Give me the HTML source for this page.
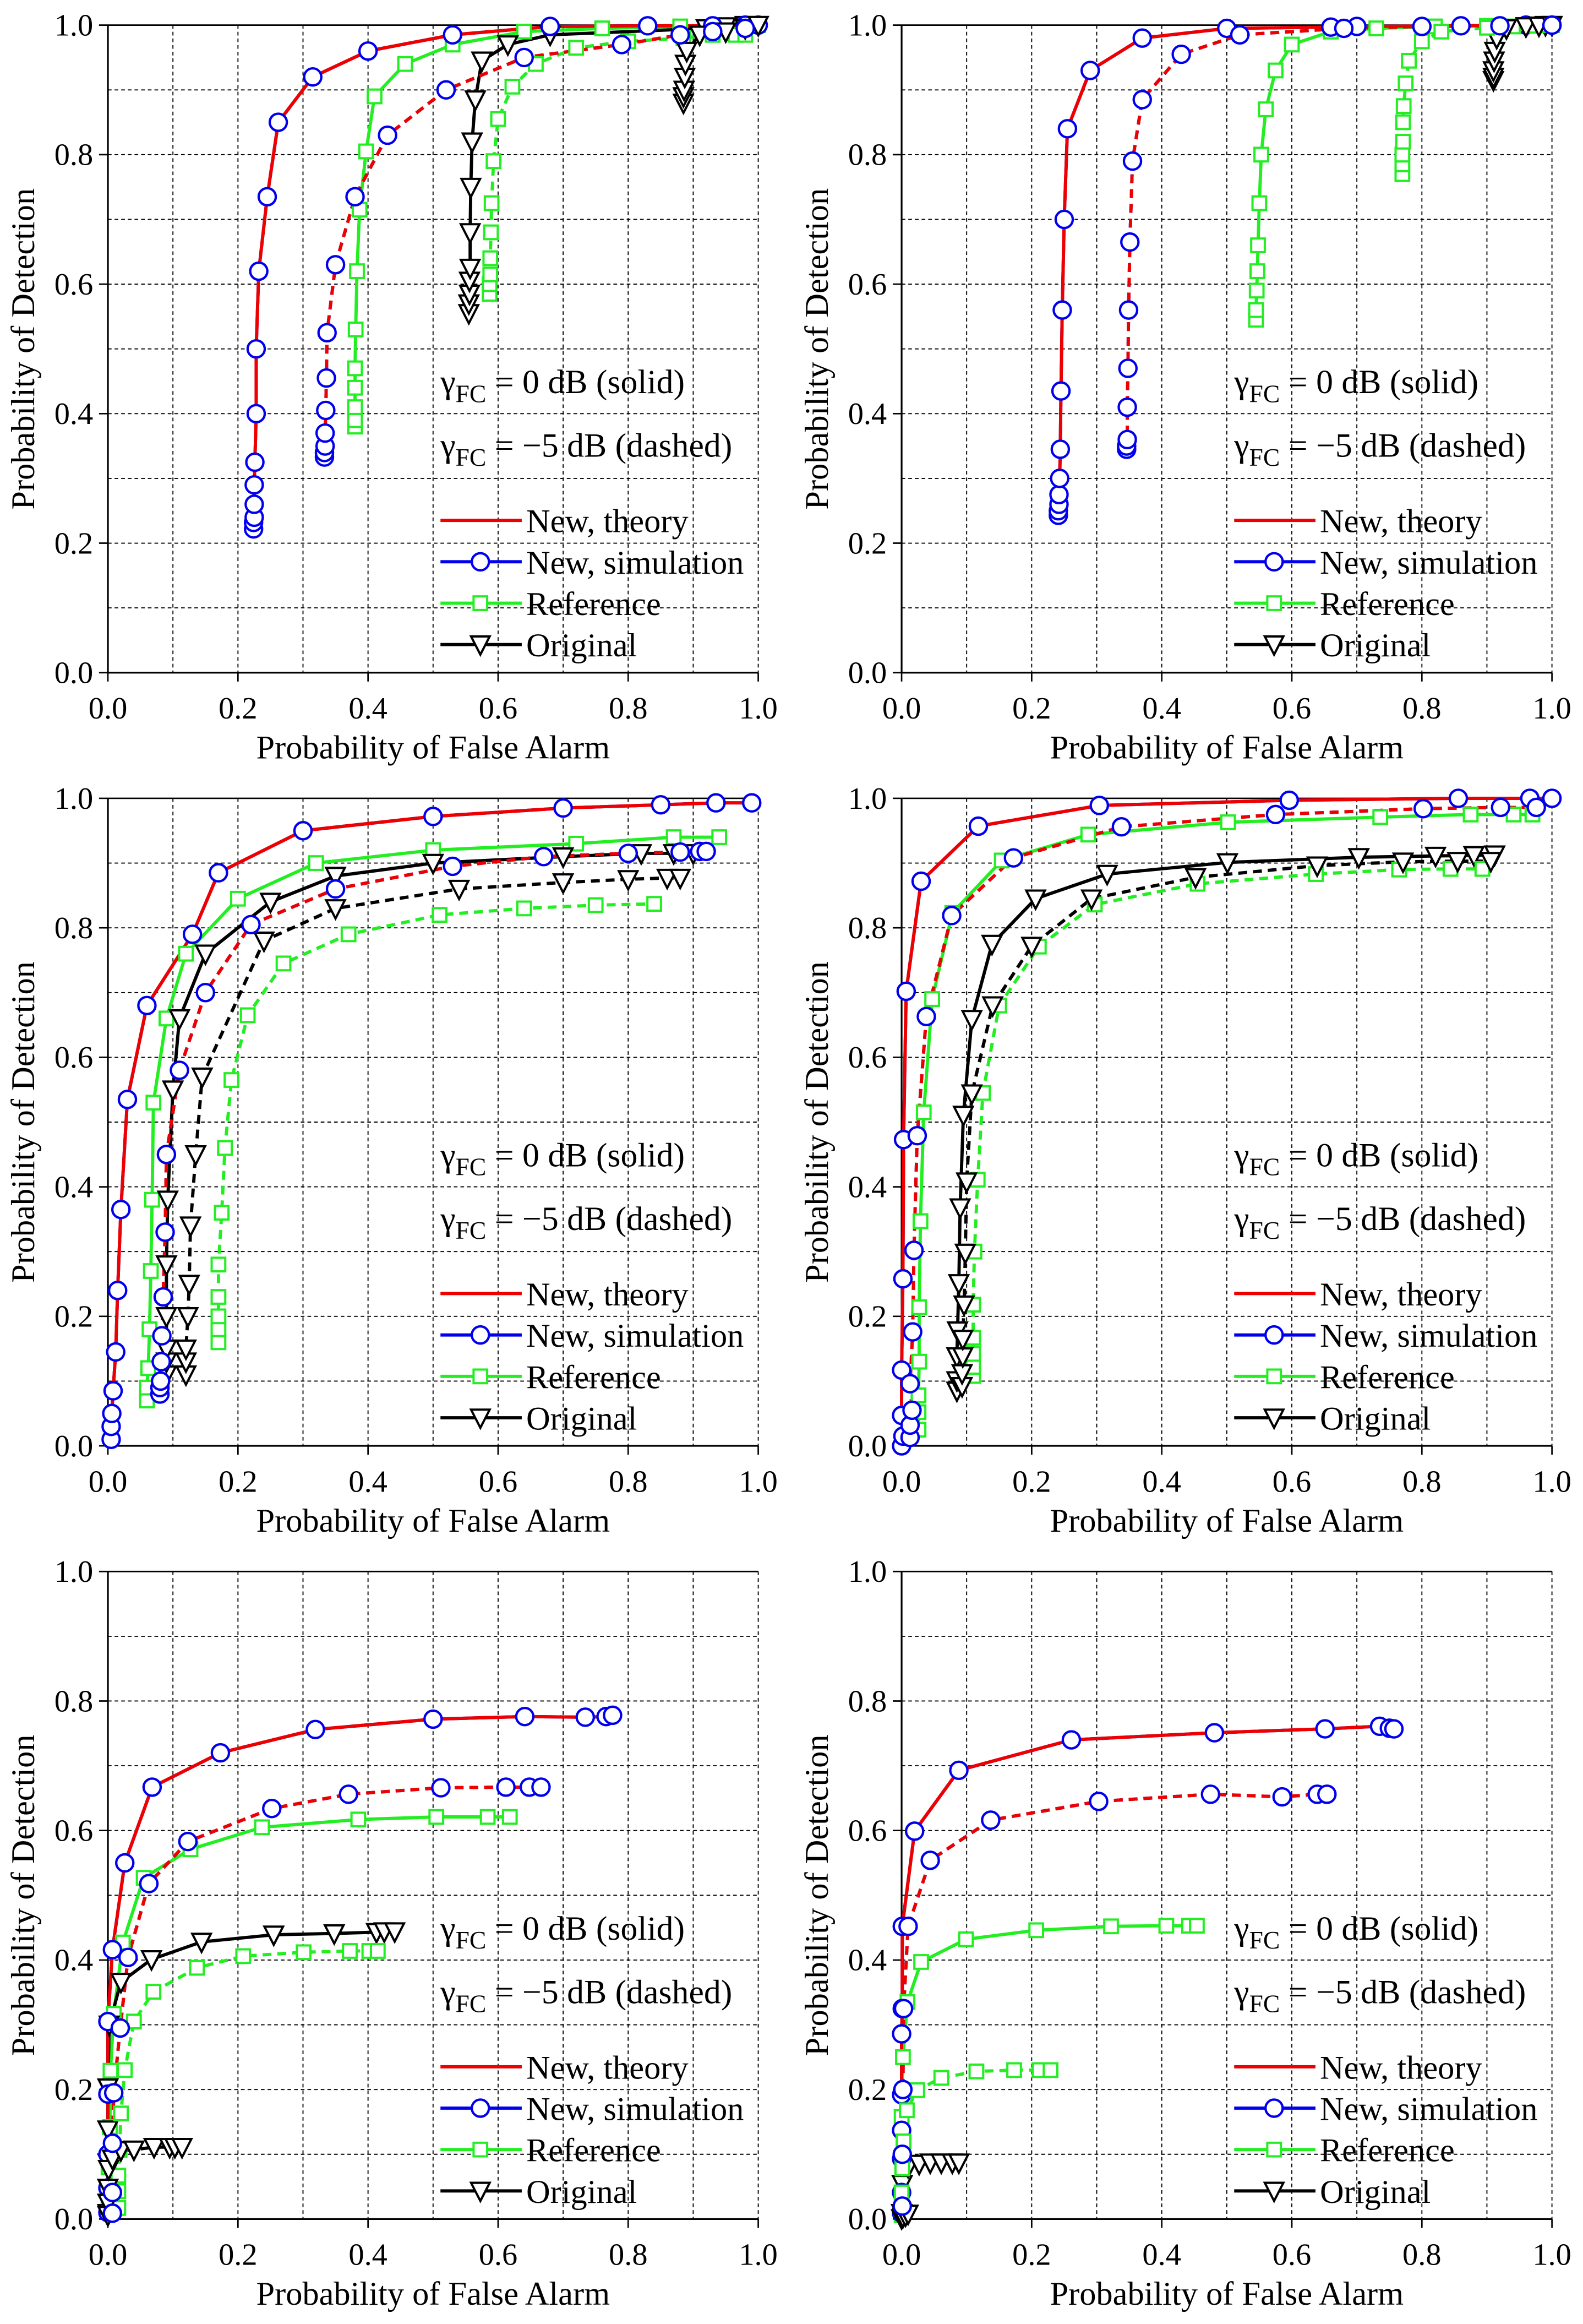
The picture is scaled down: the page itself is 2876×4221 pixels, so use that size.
<!DOCTYPE html>
<html><head><meta charset="utf-8">
<style>
html,body{margin:0;padding:0;background:#fff;}
svg{display:block;font-family:"Liberation Serif",serif;}
</style></head>
<body>
<svg id="fig" width="2876" height="4221" viewBox="0 0 1071 1572" preserveAspectRatio="none" xmlns="http://www.w3.org/2000/svg"></svg>
<script>
// ---------- Data (Pfa x, Pd y) ----------
// Panel 1
const p1_sim0_x=[.224,.224,.225,.225,.225,.226,.228,.228,.232,.245,.262,.315,.4,.53,.68,.83,.93,.98,1];
const p1_sim0_y=[.222,.232,.24,.26,.29,.325,.40,.50,.62,.735,.85,.92,.96,.985,.998,.999,.999,1,1];
const p1_sim5_x=[.333,.333,.334,.334,.335,.336,.337,.35,.38,.43,.52,.64,.79,.88,.93,.98];
const p1_sim5_y=[.333,.34,.35,.37,.405,.455,.525,.63,.735,.83,.90,.95,.97,.985,.99,.995];
const p1_ref0_x=[.38,.38,.38,.38,.38,.381,.383,.387,.397,.41,.457,.53,.64,.76,.88,1];
const p1_ref0_y=[.38,.39,.41,.44,.47,.53,.62,.715,.805,.89,.94,.97,.99,.995,.998,1];
const p1_ref5_x=[.587,.587,.588,.588,.589,.59,.593,.6,.622,.658,.72,.8,.885,.93,.965,.98];
const p1_ref5_y=[.585,.60,.615,.64,.68,.725,.79,.855,.905,.94,.965,.975,.98,.985,.985,.985];
const p1_org0_x=[.555,.555,.556,.556,.557,.557,.558,.56,.565,.575,.615,.68,.92,.95,.98,1];
const p1_org0_y=[.555,.57,.585,.605,.625,.68,.75,.82,.885,.945,.97,.985,.995,.998,1,1];
const p1_org5_x=[.885,.885,.886,.887,.888,.89,.91,.95,.98,1];
const p1_org5_y=[.88,.89,.90,.92,.94,.96,.985,.99,.995,1];
// Panel 2
const p2_sim0_x=[.241,.241,.242,.242,.243,.244,.245,.247,.25,.255,.29,.37,.5,.66,.7,.86,.96,1];
const p2_sim0_y=[.243,.25,.26,.275,.30,.345,.435,.56,.70,.84,.93,.98,.995,.997,.998,.999,1,1];
const p2_sim5_x=[.346,.346,.347,.347,.348,.349,.351,.355,.37,.43,.52,.68,.8,.92,1];
const p2_sim5_y=[.345,.35,.36,.41,.47,.56,.665,.79,.885,.955,.985,.995,.998,.999,1];
const p2_ref0_x=[.545,.545,.546,.547,.548,.55,.553,.56,.575,.6,.66,.73,.82,.9,.97,1];
const p2_ref0_y=[.545,.56,.59,.62,.66,.725,.80,.87,.93,.97,.99,.995,.998,.999,1,1];
const p2_ref5_x=[.77,.77,.77,.771,.771,.772,.775,.78,.8,.83,.9,.94,.97,.99,1];
const p2_ref5_y=[.77,.785,.8,.82,.85,.875,.91,.945,.975,.99,.996,.998,.999,1,1];
const p2_org0_x=[.91,.91,.91,.911,.912,.915,.93,.96,.99,1];
const p2_org0_y=[.915,.92,.93,.945,.96,.98,.995,.998,1,1];
const p2_org5_x=[.93,.96,.98,1];
const p2_org5_y=[.995,.998,.999,1];
// Panel 3
const p3_sim0_x=[.005,.005,.006,.008,.012,.015,.02,.03,.06,.13,.17,.3,.5,.7,.85,.935,.99];
const p3_sim0_y=[.01,.03,.05,.085,.145,.24,.365,.535,.68,.79,.885,.95,.972,.985,.99,.993,.993];
const p3_sim5_x=[.08,.08,.081,.082,.083,.085,.088,.09,.11,.15,.22,.35,.53,.67,.8,.88,.91,.92];
const p3_sim5_y=[.08,.09,.1,.13,.17,.23,.33,.45,.58,.70,.805,.86,.895,.91,.915,.917,.918,.918];
const p3_ref0_x=[.06,.06,.062,.064,.066,.068,.07,.09,.12,.2,.32,.5,.72,.87,.94];
const p3_ref0_y=[.07,.09,.12,.18,.27,.38,.53,.66,.76,.845,.9,.92,.93,.94,.94];
const p3_ref5_x=[.17,.17,.17,.17,.17,.175,.18,.19,.215,.27,.37,.51,.64,.75,.84];
const p3_ref5_y=[.16,.18,.2,.23,.28,.36,.46,.565,.665,.745,.79,.82,.83,.835,.837];
const p3_org0_x=[.09,.09,.09,.09,.09,.092,.1,.11,.15,.25,.35,.5,.7,.82,.87,.9];
const p3_org0_y=[.11,.13,.15,.2,.28,.38,.55,.66,.76,.84,.88,.9,.91,.915,.915,.915];
const p3_org5_x=[.12,.12,.12,.123,.125,.127,.135,.145,.24,.35,.54,.7,.8,.86,.88];
const p3_org5_y=[.11,.13,.15,.2,.25,.34,.45,.57,.78,.83,.86,.87,.875,.877,.877];
// Panel 4
const p4_sim0_x=[0,.002,0,0,.002,.003,.007,.03,.118,.304,.596,.856,.966,1];
const p4_sim0_y=[0,.015,.047,.117,.258,.473,.702,.872,.957,.989,.997,1,1,1];
const p4_sim5_x=[.013,.013,.016,.013,.017,.019,.024,.038,.077,.172,.338,.575,.802,.921,.976];
const p4_sim5_y=[.013,.032,.055,.096,.176,.302,.479,.663,.819,.908,.956,.975,.984,.986,.986];
const p4_ref0_x=[.026,.026,.026,.027,.027,.029,.034,.047,.078,.154,.287,.502,.736,.875,.941,.97];
const p4_ref0_y=[.025,.052,.078,.13,.214,.347,.515,.69,.823,.904,.944,.963,.971,.975,.975,.975];
const p4_ref5_x=[.11,.11,.11,.11,.11,.112,.117,.125,.15,.211,.297,.455,.637,.765,.844,.893];
const p4_ref5_y=[.108,.122,.142,.167,.218,.3,.411,.545,.68,.771,.836,.868,.883,.89,.891,.891];
const p4_org0_x=[.085,.085,.085,.086,.088,.09,.095,.108,.139,.206,.316,.501,.703,.821,.88,.912];
const p4_org0_y=[.085,.101,.138,.178,.251,.368,.511,.659,.775,.845,.883,.901,.909,.911,.912,.913];
const p4_org5_x=[.093,.093,.094,.094,.096,.098,.1,.108,.14,.2,.292,.452,.639,.771,.855,.906];
const p4_org5_y=[.092,.112,.138,.165,.218,.298,.408,.544,.68,.772,.845,.878,.896,.902,.903,.903];
// Panel 5
const p5_sim0_x=[0,0,0,0,0,.007,.026,.068,.173,.319,.5,.641,.734,.766,.776];
const p5_sim0_y=[.01,.048,.1,.193,.305,.416,.55,.667,.72,.756,.772,.776,.775,.776,.778];
const p5_sim5_x=[.007,.007,.007,.009,.019,.031,.063,.123,.252,.37,.512,.612,.648,.666];
const p5_sim5_y=[.009,.041,.117,.195,.295,.404,.518,.583,.634,.656,.666,.667,.667,.667];
const p5_ref0_x=[.001,.001,.001,.003,.004,.009,.023,.055,.127,.237,.385,.505,.584,.618];
const p5_ref0_y=[.022,.041,.08,.142,.229,.317,.427,.527,.571,.605,.617,.621,.621,.621];
const p5_ref5_x=[.016,.016,.016,.018,.02,.026,.04,.07,.137,.208,.301,.372,.402,.415];
const p5_ref5_y=[.017,.043,.067,.107,.163,.23,.305,.351,.388,.406,.412,.414,.414,.414];
const p5_org0_x=[0,0,0,0,0,.002,.02,.067,.144,.255,.348,.413,.425,.441];
const p5_org0_y=[.009,.048,.087,.138,.203,.3,.366,.401,.428,.439,.441,.443,.444,.444];
const p5_org5_x=[0,0,0,.001,.007,.02,.04,.071,.095,.103,.114];
const p5_org5_y=[.006,.025,.048,.077,.093,.106,.107,.111,.111,.111,.111];
// Panel 6
const p6_sim0_x=[0,0,0,0,0,0,.001,.001,.02,.088,.261,.481,.651,.735,.75,.757];
const p6_sim0_y=[.009,.041,.093,.137,.192,.286,.325,.452,.599,.693,.74,.751,.757,.761,.758,.757];
const p6_sim5_x=[.001,.001,.002,.003,.01,.044,.137,.303,.475,.585,.639,.654];
const p6_sim5_y=[.02,.1,.2,.325,.452,.554,.616,.645,.656,.652,.656,.656];
const p6_ref0_x=[0,0,.001,.003,0,.002,.009,.03,.099,.207,.322,.407,.442,.454];
const p6_ref0_y=[.006,.041,.078,.12,.158,.25,.335,.397,.432,.446,.452,.453,.453,.453];
const p6_ref5_x=[0,0,.001,.003,.008,.024,.061,.115,.173,.212,.229];
const p6_ref5_y=[.016,.041,.078,.12,.168,.199,.218,.228,.23,.23,.23];
const p6_org0_x=[0,.001,.01,.027,.044,.061,.078,.088];
const p6_org0_y=[.009,.054,.08,.085,.087,.087,.087,.087];
const p6_org5_x=[0,.002,.006,.01];
const p6_org5_y=[.001,.003,.005,.008];

const xTicks=["0.0","0.2","0.4","0.6","0.8","1.0"];
const yTicks=["0.0","0.2","0.4","0.6","0.8","1.0"];
const legendLabels=["New, theory","New, simulation","Reference","Original"];

const panels=[
 {x0:73,y0:17,d:{sim0:[p1_sim0_x,p1_sim0_y],sim5:[p1_sim5_x,p1_sim5_y],ref0:[p1_ref0_x,p1_ref0_y],ref5:[p1_ref5_x,p1_ref5_y],org0:[p1_org0_x,p1_org0_y],org5:[p1_org5_x,p1_org5_y]}},
 {x0:610,y0:17,d:{sim0:[p2_sim0_x,p2_sim0_y],sim5:[p2_sim5_x,p2_sim5_y],ref0:[p2_ref0_x,p2_ref0_y],ref5:[p2_ref5_x,p2_ref5_y],org0:[p2_org0_x,p2_org0_y],org5:[p2_org5_x,p2_org5_y]}},
 {x0:73,y0:540,d:{sim0:[p3_sim0_x,p3_sim0_y],sim5:[p3_sim5_x,p3_sim5_y],ref0:[p3_ref0_x,p3_ref0_y],ref5:[p3_ref5_x,p3_ref5_y],org0:[p3_org0_x,p3_org0_y],org5:[p3_org5_x,p3_org5_y]}},
 {x0:610,y0:540,d:{sim0:[p4_sim0_x,p4_sim0_y],sim5:[p4_sim5_x,p4_sim5_y],ref0:[p4_ref0_x,p4_ref0_y],ref5:[p4_ref5_x,p4_ref5_y],org0:[p4_org0_x,p4_org0_y],org5:[p4_org5_x,p4_org5_y]}},
 {x0:73,y0:1063,d:{sim0:[p5_sim0_x,p5_sim0_y],sim5:[p5_sim5_x,p5_sim5_y],ref0:[p5_ref0_x,p5_ref0_y],ref5:[p5_ref5_x,p5_ref5_y],org0:[p5_org0_x,p5_org0_y],org5:[p5_org5_x,p5_org5_y]}},
 {x0:610,y0:1063,d:{sim0:[p6_sim0_x,p6_sim0_y],sim5:[p6_sim5_x,p6_sim5_y],ref0:[p6_ref0_x,p6_ref0_y],ref5:[p6_ref5_x,p6_ref5_y],org0:[p6_org0_x,p6_org0_y],org5:[p6_org5_x,p6_org5_y]}}
];

const NS="http://www.w3.org/2000/svg";
const svg=document.getElementById('fig');
const W=440,H=438;
function mk(tag,attrs,parent){const e=document.createElementNS(NS,tag);for(const k in attrs)e.setAttribute(k,attrs[k]);(parent||svg).appendChild(e);return e;}

function marker(g,type,cx,cy,color){
  let m;
  if(type==='c'){m=mk('circle',{cx:cx,cy:cy,r:5.8,fill:'#fff',stroke:color,'stroke-width':1.6},g);}
  else if(type==='s'){m=mk('rect',{x:cx-4.6,y:cy-4.6,width:9.2,height:9.2,fill:'#fff',stroke:color,'stroke-width':1.5},g);}
  else {m=mk('path',{d:`M${cx-6.3},${cy-5.5} L${cx+6.3},${cy-5.5} L${cx},${cy+6.8} Z`,fill:'#fff',stroke:color,'stroke-width':1.5},g);}
  return m;
}

panels.forEach((p,pi)=>{
  const sx=v=>p.x0+v*W, sy=v=>p.y0+H-v*H;
  const g=mk('g',{});
  
  
  for(let i=1;i<=10;i++){
    const gx=mk('line',{x1:sx(i/10),y1:p.y0,x2:sx(i/10),y2:p.y0+H,stroke:'#000','stroke-width':0.7,'stroke-dasharray':'2.5,2'},g);
    
    
    const gy=mk('line',{x1:p.x0,y1:sy(i/10),x2:p.x0+W,y2:sy(i/10),stroke:'#000','stroke-width':0.7,'stroke-dasharray':'2.5,2'},g);
    
    
  }
  const top=mk('line',{x1:p.x0,y1:p.y0,x2:p.x0+W,y2:p.y0,stroke:'#000','stroke-width':1},g);
  
  
  const xa=mk('line',{x1:p.x0,y1:p.y0+H,x2:p.x0+W,y2:p.y0+H,stroke:'#000','stroke-width':1.2},g);
  
  
  const ya=mk('line',{x1:p.x0,y1:p.y0,x2:p.x0,y2:p.y0+H,stroke:'#000','stroke-width':1.2},g);
  
  
  xTicks.forEach((t,i)=>{
    const v=i/(xTicks.length-1);
    const tk=mk('line',{x1:sx(v),y1:p.y0+H,x2:sx(v),y2:p.y0+H+6,stroke:'#000','stroke-width':1},g);
    
    
    const tx=mk('text',{x:sx(v),y:p.y0+H+31,'text-anchor':'middle','font-size':21},g);
    tx.textContent=t;
    
    
  });
  yTicks.forEach((t,i)=>{
    const v=i/(yTicks.length-1);
    const tk=mk('line',{x1:p.x0-6,y1:sy(v),x2:p.x0,y2:sy(v),stroke:'#000','stroke-width':1},g);
    
    
    const ty=mk('text',{x:p.x0-10,y:sy(v)+7,'text-anchor':'end','font-size':21},g);
    ty.textContent=t;
    
    
  });
  const xt=mk('text',{x:p.x0+220,y:p.y0+H+58,'text-anchor':'middle','font-size':22.5},g);
  xt.textContent='Probability of False Alarm';
  
  
  const yt=mk('text',{x:0,y:0,'text-anchor':'middle','font-size':22.5,transform:`translate(${p.x0-50},${p.y0+219}) rotate(-90)`},g);
  yt.textContent='Probability of Detection';
  
  

  const defs=[
    ['ref','#22ee22','s'],['org','#000','t'],['sim','#0000ee','c'],['theory','#ee0000',null]
  ];
  const lines=[];
  ['0','5'].forEach(lv=>{
    defs.forEach(([k,col,mt])=>{
      const src=k==='theory'?p.d['sim'+lv]:p.d[k+lv];
      const xs=src[0],ys=src[1];
      const pts=xs.map((x,i)=>sx(x).toFixed(2)+','+sy(ys[i]).toFixed(2)).join(' ');
      const attrs={points:pts,fill:'none',stroke:col,'stroke-width':2.2,'stroke-linejoin':'round'};
      if(lv==='5')attrs['stroke-dasharray']='6,4';
      lines.push({k,lv,attrs,xs,ys,col,mt});
    });
  });
  const order=['ref','org','sim','theory'];
  order.forEach(k=>lines.filter(l=>l.k===k).forEach(l=>{
    const pl=mk('polyline',l.attrs,g);
    
    
  }));
  lines.filter(l=>l.mt).forEach(l=>{
    l.xs.forEach((x,i)=>{
      const m=marker(g,l.mt,sx(x),sy(l.ys[i]),l.col);
      
      
    });
  });

  const a1=mk('text',{x:p.x0+225,y:p.y0+249,'font-size':23},g);
  a1.innerHTML='γ<tspan font-size="17" dy="6">FC</tspan><tspan dy="-6"> = 0 dB (solid)</tspan>';
  
  
  const a2=mk('text',{x:p.x0+225,y:p.y0+292,'font-size':23},g);
  a2.innerHTML='γ<tspan font-size="17" dy="6">FC</tspan><tspan dy="-6"> = −5 dB (dashed)</tspan>';
  
  

  const lg=mk('g',{},g);
  
  
  const lcols=['#ee0000','#0000ee','#22ee22','#000'];
  const lmk=[null,'c','s','t'];
  legendLabels.forEach((lab,i)=>{
    const yy=p.y0+335+i*28;
    const ll=mk('line',{x1:p.x0+225,y1:yy,x2:p.x0+280,y2:yy,stroke:lcols[i],'stroke-width':2.2},lg);
    
    
    if(lmk[i]){
      const m=marker(lg,lmk[i],p.x0+252,yy,lcols[i]);
      
      
    }
    const lt=mk('text',{x:p.x0+283,y:yy+8,'font-size':22.5},lg);
    lt.textContent=lab;
    
    
  });
});
</script>
</body></html>
